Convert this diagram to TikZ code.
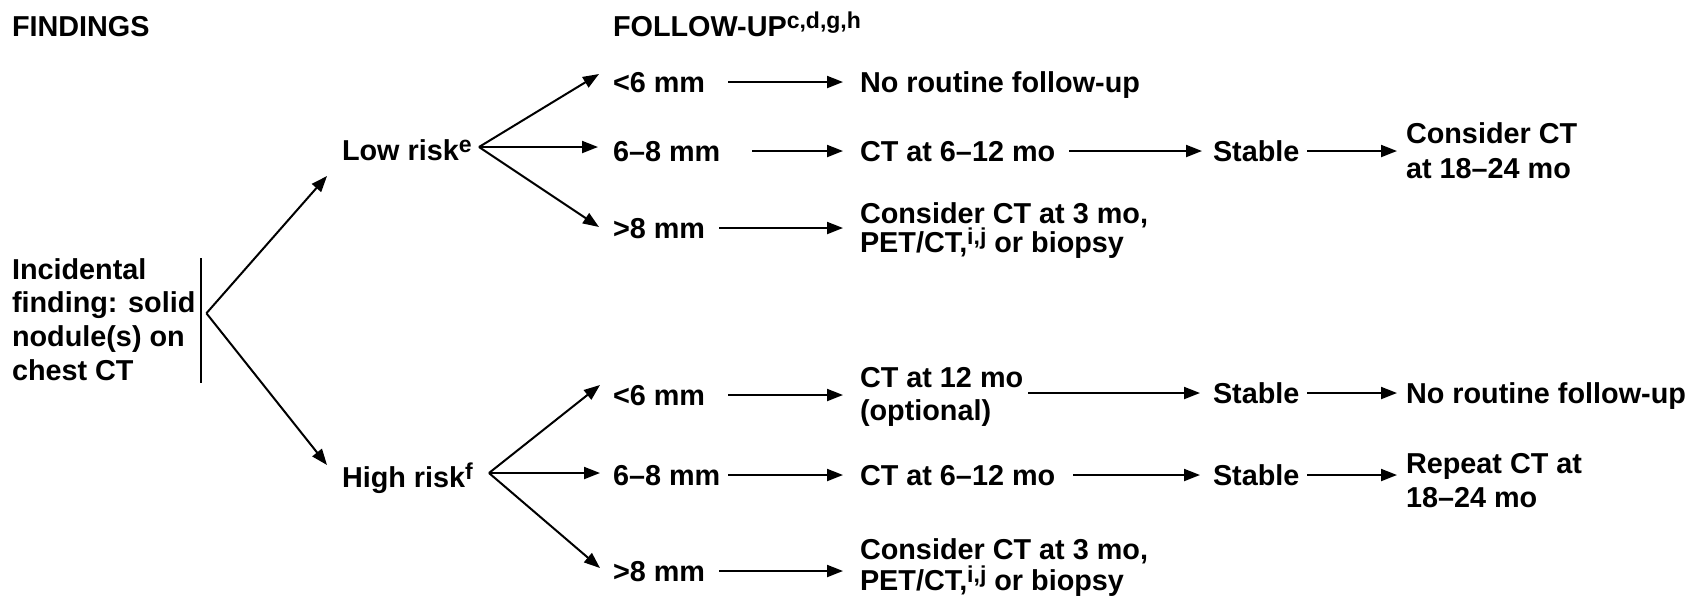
\documentclass[tikz,border=0pt]{standalone}
\usepackage{fontspec}
\setmainfont{Liberation Sans}
\usetikzlibrary{arrows.meta,calc}
\newcommand{\mlines}[2]{\vtop{\baselineskip=#1\relax\lineskiplimit=-30pt\lineskip=0pt #2}}
\newcommand{\sups}[1]{\raisebox{4pt}{\fontsize{11.5pt}{12pt}\selectfont #1}}
\begin{document}
\begin{tikzpicture}[x=0.5pt,y=-0.5pt,
  txt/.style={inner sep=0pt,outer sep=0pt,anchor=base west,font=\fontsize{14.4pt}{17pt}\selectfont\bfseries},
  ln/.style={line width=1pt},
  arr/.style={line width=1pt,-{Triangle[length=8pt,width=6pt]}}]
\useasboundingbox (0,0) rectangle (1694,602);

% headers
\node[txt] (find) at (12,36) {FINDINGS};
\node[txt] (fup) at (613,36) {FOLLOW-UP\sups{c,d,g,h}};

% findings
\node[txt] (inc) at (12,279) {\mlines{16.85pt}{\hbox{Incidental}\hbox{finding: solid}\hbox{nodule(s) on}\hbox{chest CT}}};
\node[txt] (low) at (342,160) {Low risk\sups{e}};
\node[txt] (high) at (342,487) {High risk\sups{f}};

% sizes
\node[txt] (l1) at (613,92) {<6 mm};
\node[txt] (l2) at (613,161) {6–8 mm};
\node[txt] (l3) at (613,238) {>8 mm};
\node[txt] (h1) at (613,405) {<6 mm};
\node[txt] (h2) at (613,485) {6–8 mm};
\node[txt] (h3) at (613,581) {>8 mm};

% follow-up, low risk
\node[txt] (l1o) at (860,92) {No routine follow-up};
\node[txt] (l2o) at (860,161) {CT at 6–12 mo};
\node[txt] (l2s) at (1213,161) {Stable};
\node[txt] (l2f) at (1406,143) {\mlines{17.5pt}{\hbox{Consider CT}\hbox{at 18–24 mo}}};
\node[txt] (l3o) at (860,223) {\mlines{14.6pt}{\hbox{Consider CT at 3 mo,}\hbox{PET/CT,\sups{i,j} or biopsy}}};

% follow-up, high risk
\node[txt] (h1o) at (860,387) {\mlines{16.5pt}{\hbox{CT at 12 mo}\hbox{(optional)}}};
\node[txt] (h1s) at (1213,403) {Stable};
\node[txt] (h1f) at (1406,403) {No routine follow-up};
\node[txt] (h2o) at (860,485) {CT at 6–12 mo};
\node[txt] (h2s) at (1213,485) {Stable};
\node[txt] (h2f) at (1406,473) {\mlines{17pt}{\hbox{Repeat CT at}\hbox{18–24 mo}}};
\node[txt] (h3o) at (860,559) {\mlines{15.5pt}{\hbox{Consider CT at 3 mo,}\hbox{PET/CT,\sups{i,j} or biopsy}}};

% bracket bar and branch points
\draw[ln] ($(inc.north east)+(6,0)$) -- ($(inc.south east)+(6,3)$);
\coordinate (ix) at ($(inc.east)+(11,-6)$);
\coordinate (lx) at (479,147);
\coordinate (hx) at (489,473);

% branches
\draw[arr] (ix) -- ($(low.base west)+(-15,16)$);
\draw[arr] (ix) -- ($(high.base west)+(-15,-22)$);
\draw[arr] (lx) -- ($(l1.base west)+(-14,-18)$);
\draw[arr] (lx) -- ($(lx -| l2.west)+(-15,0)$);
\draw[arr] (lx) -- ($(l3.base west)+(-14,-11)$);
\draw[arr] (hx) -- ($(h1.base west)+(-13,-20)$);
\draw[arr] (hx) -- ($(hx -| h2.west)+(-13,0)$);
\draw[arr] (hx) -- ($(h3.base west)+(-13,-13)$);

% low risk rows
\draw[arr] ($(l1.base east)+(23,-10)$) -- ($(l1o.base west |- l1.base)+(-17,-10)$);
\draw[arr] ($(l2.base east)+(32,-10)$) -- ($(l2o.base west |- l2.base)+(-17,-10)$);
\draw[arr] ($(l2o.base east)+(14,-10)$) -- ($(l2s.base west)+(-11,-10)$);
\draw[arr] ($(l2s.base east)+(8,-10)$) -- ($(l2f.west |- l2s.base)+(-9,-10)$);
\draw[arr] ($(l3.base east)+(14,-10)$) -- ($(l3o.west |- l3.base)+(-17,-10)$);

% high risk rows
\draw[arr] ($(h1.base east)+(23,-10)$) -- ($(h1o.west |- h1.base)+(-17,-10)$);
\draw[arr] ($(h1o.east |- h1s.base)+(5,-10)$) -- ($(h1s.base west)+(-13,-10)$);
\draw[arr] ($(h1s.base east)+(8,-10)$) -- ($(h1f.base west)+(-9,-10)$);
\draw[arr] ($(h2.base east)+(8,-10)$) -- ($(h2o.base west)+(-17,-10)$);
\draw[arr] ($(h2o.base east)+(18,-10)$) -- ($(h2s.base west)+(-13,-10)$);
\draw[arr] ($(h2s.base east)+(8,-10)$) -- ($(h2f.west |- h2s.base)+(-9,-10)$);
\draw[arr] ($(h3.base east)+(14,-10)$) -- ($(h3o.west |- h3.base)+(-17,-10)$);
\end{tikzpicture}
\end{document}
